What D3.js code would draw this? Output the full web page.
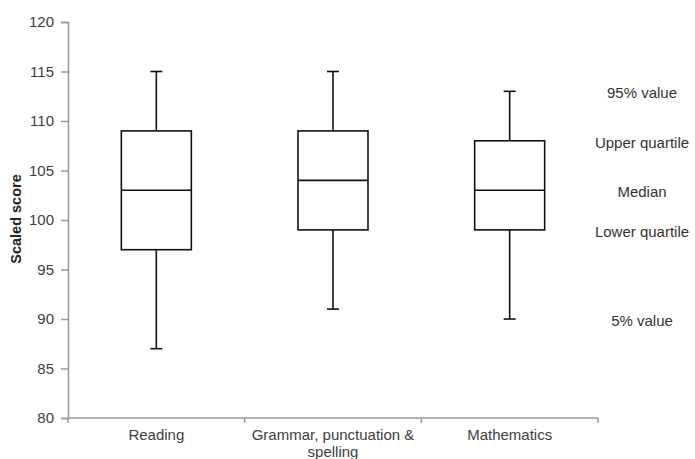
<!DOCTYPE html>
<html>
<head>
<meta charset="utf-8">
<script src="https://cdn.jsdelivr.net/npm/d3@7"></script>
<style>
  body { margin: 0; background: #fff; }
  text { font-family: "Liberation Sans", Arial, sans-serif; fill: #333; }
  .axis path, .axis line { stroke: #999; stroke-width: 1.5; }
  .axis text { font-size: 15px; fill: #404040; }
</style>
</head>
<body>
<svg width="695" height="459"></svg>
<script>
// **** Data ****
var subjects = ["Reading", "Grammar, punctuation & spelling", "Mathematics"];
var p5 = [87, 91, 90];
var lowerQ = [97, 99, 99];
var medians = [103, 104, 103];
var upperQ = [109, 109, 108];
var p95 = [115, 115, 113];
var yTicks = [80, 85, 90, 95, 100, 105, 110, 115, 120];
var keyLabels = ["95% value", "Upper quartile", "Median", "Lower quartile", "5% value"];
var keyValues = [p95[2], upperQ[2], medians[2], lowerQ[2], p5[2]];

var boxes = subjects.map((s, i) => ({
    name: s, lo: p5[i], q1: lowerQ[i], med: medians[i], q3: upperQ[i], hi: p95[i]
}));

// **** Scales and axes ****
var svg = d3.select("svg");

var xScale = d3.scaleBand()
    .domain(subjects).range([68, 598]);

var yScale = d3.scaleLinear()
    .domain([80, 120]).range([418, 22]);

svg.append("g").attr("class", "y axis")
    .attr("transform", "translate(68,0)")
    .call(d3.axisLeft(yScale).tickValues(yTicks).tickSizeOuter(0).tickSize(7).tickPadding(7));

var xAxis = svg.append("g").attr("class", "x axis")
    .attr("transform", "translate(0,418)");

xAxis.append("line")
    .attr("x1", 68).attr("x2", 598)
    .attr("y1", 0).attr("y2", 0);

xAxis.selectAll(".xtick")
    .data(subjects.concat(["end"]))
    .enter()
    .append("line")
    .attr("class", "xtick")
    .attr("x1", (d, i) => 68 + i * xScale.step())
    .attr("x2", (d, i) => 68 + i * xScale.step())
    .attr("y1", 0).attr("y2", 5);

xAxis.selectAll(".xlabel")
    .data(subjects)
    .enter()
    .append("text")
    .attr("class", "xlabel")
    .attr("text-anchor", "middle")
    .attr("x", d => xScale(d) + xScale.bandwidth() / 2)
    .attr("y", 22)
    .each(function(d) {
        var lines = d === "Grammar, punctuation & spelling"
            ? ["Grammar, punctuation &", "spelling"] : [d];
        var t = d3.select(this);
        lines.forEach((l, k) => {
            t.append("tspan")
                .attr("x", xScale(d) + xScale.bandwidth() / 2)
                .attr("dy", k === 0 ? 0 : 17)
                .text(l);
        });
    });

svg.append("text")
    .attr("text-anchor", "middle")
    .attr("transform", "translate(21,219) rotate(-90)")
    .style("font-size", "14.5px")
    .style("font-weight", "bold")
    .style("fill", "#222")
    .text("Scaled score");

// **** Box plots ****
var boxW = 70, capW = 12;

var box = svg.selectAll(".box")
    .data(boxes)
    .enter()
    .append("g")
    .attr("class", "box")
    .attr("transform", d => `translate(${xScale(d.name) + xScale.bandwidth() / 2},0)`)
    .style("stroke", "#111")
    .style("stroke-width", 1.6)
    .style("fill", "none");

box.append("line")
    .attr("x1", 0).attr("x2", 0)
    .attr("y1", d => yScale(d.hi)).attr("y2", d => yScale(d.q3));

box.append("line")
    .attr("x1", 0).attr("x2", 0)
    .attr("y1", d => yScale(d.q1)).attr("y2", d => yScale(d.lo));

box.append("line")
    .attr("x1", -capW / 2).attr("x2", capW / 2)
    .attr("y1", d => yScale(d.hi)).attr("y2", d => yScale(d.hi));

box.append("line")
    .attr("x1", -capW / 2).attr("x2", capW / 2)
    .attr("y1", d => yScale(d.lo)).attr("y2", d => yScale(d.lo));

box.append("rect")
    .attr("x", -boxW / 2)
    .attr("width", boxW)
    .attr("y", d => yScale(d.q3))
    .attr("height", d => yScale(d.q1) - yScale(d.q3));

box.append("line")
    .attr("x1", -boxW / 2).attr("x2", boxW / 2)
    .attr("y1", d => yScale(d.med)).attr("y2", d => yScale(d.med));

// **** Key labels ****
svg.selectAll(".key")
    .data(keyLabels)
    .enter()
    .append("text")
    .attr("class", "key")
    .attr("text-anchor", "middle")
    .attr("x", 642)
    .attr("y", (d, i) => yScale(keyValues[i]))
    .attr("dy", "0.45em")
    .style("font-size", "15px")
    .text(d => d);
</script>
</body>
</html>
